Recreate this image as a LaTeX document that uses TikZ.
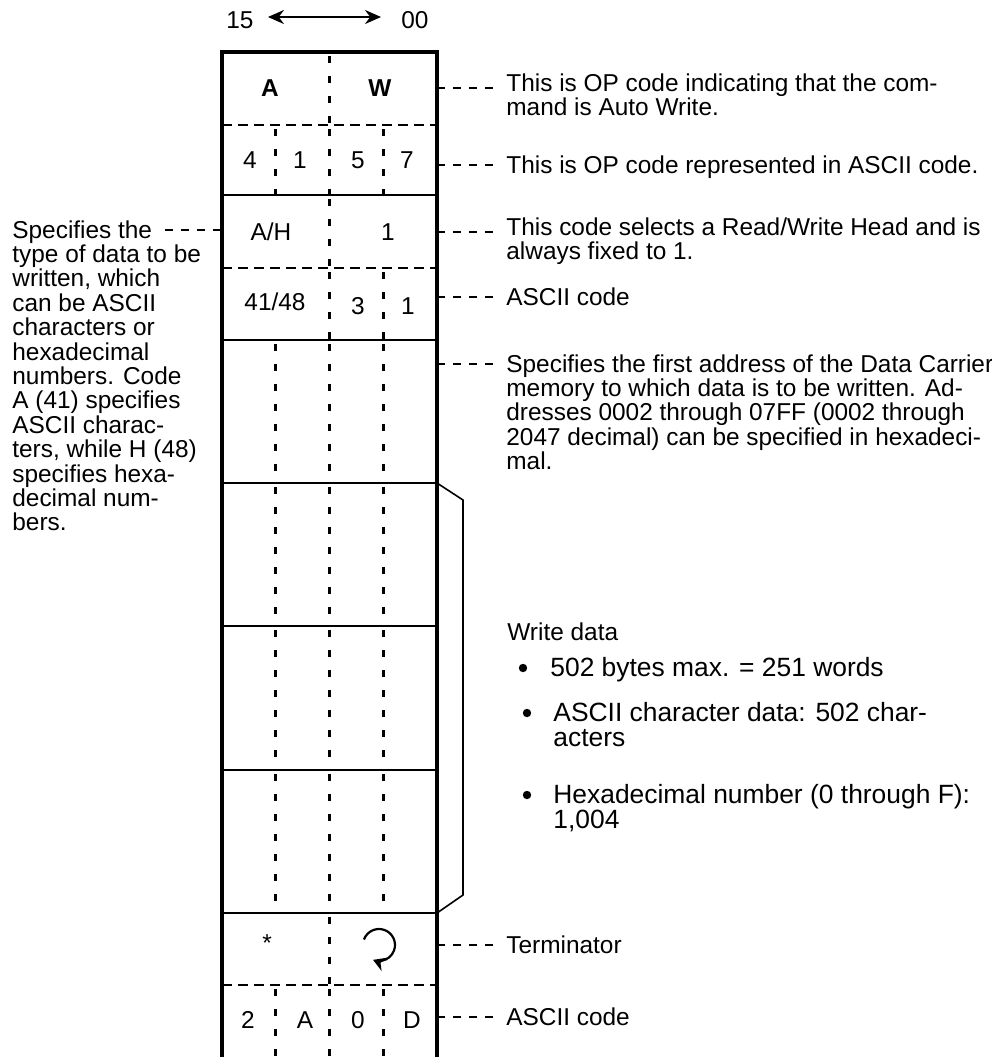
\documentclass[tikz,border=0pt]{standalone}
\usepackage{fontspec}
\setmainfont{Liberation Sans}
\usetikzlibrary{arrows.meta,positioning}
\newcommand{\txtsize}{\fontsize{12.2}{12.2}\selectfont}
\newcommand{\bulsize}{\fontsize{13.2}{12.6}\selectfont}
\newcommand{\colw}{53.75}

\begin{document}
\begin{tikzpicture}[x=0.5pt,y=-0.5pt,
	frame/.style={line width=2pt},
	rule/.style={line width=0.8pt},
	hdash/.style={line width=1.1pt,dash pattern=on 5pt off 3pt},
	vdash/.style={line width=1.6pt,dash pattern=on 3.5pt off 6.5pt},
	leader/.style={line width=0.8pt,dash pattern=on 4pt off 4pt},
	cell/.style={inner sep=0pt,font=\txtsize},
	note/.style={inner sep=0pt,align=left,anchor=north west,font=\txtsize},
	bul/.style={note,font=\bulsize},
	dot/.style={circle,fill,inner sep=0pt,minimum size=4.2pt},
	]
	\useasboundingbox (0,0) rectangle (992,1057);
	
	% bit order
	\node[cell] (b15) at (240,20) {15};
	\node[cell] (b00) at (415,20) {00};
	\draw[line width=1pt,{Stealth[length=8pt,width=7pt]}-{Stealth[length=8pt,width=7pt]}] ([xshift=7pt,yshift=1.5pt]b15.east) -- ([xshift=-10pt,yshift=1.5pt]b00.west);
	
	% dashed columns, row by row
	\foreach \ya/\yb/\cs/\ce in {52/125/2/2,125/195/1/3,195/268/2/2,268/340/2/3,340/483/1/3,483/626/1/3,626/770/1/3,770/913/1/3,913/985/2/2,985/1057/1/3}{
		\foreach \c in {\cs,...,\ce}
			\draw[vdash] ({222+\colw*\c},\ya+4) -- ({222+\colw*\c},\yb);
	}
	% row rules
	\foreach \y in {195,340,483,626,770,913}
		\draw[rule] (222,\y) -- (437,\y);
	\foreach \y in {125,268,985}
		\draw[hdash] (222,\y) -- (437,\y);
	% outer frame
	\draw[frame] (222,1062) -- (222,52) -- (437,52) -- (437,1062);
	
	% words
	\node[cell,font=\txtsize\bfseries] (opa) at (270,88) {A};
	\node[cell,font=\txtsize\bfseries] (opw) at (380,88) {W};
	\node[cell] (h4) at (250,160) {4};
	\node[cell] (h1) at (300,160) {1};
	\node[cell] (h5) at (358,160) {5};
	\node[cell] (h7) at (407,160) {7};
	\node[cell] (ah) at (271,232) {A/H};
	\node[cell] (hd) at (388,232) {1};
	\node[cell] (cd) at (275,302) {41/48};
	\node[cell] (c3) at (358,306) {3};
	\node[cell] (c1) at (408,306) {1};
	\node[cell] (star) at (267,943) {*};
	\coordinate (ret) at (379,945);
	\draw[line width=1.1pt,-{Stealth[length=6pt,width=7pt]}] (ret) ++(-160:16) arc[start angle=-160,end angle=112,radius=16];
	\node[cell] (t2) at (248,1020) {2};
	\node[cell] (ta) at (305,1020) {A};
	\node[cell] (t0) at (358,1020) {0};
	\node[cell] (td) at (412,1020) {D};
	
	% bracket round the write data
	\coordinate (ka) at (437,483);
	\coordinate (kb) at (463,500);
	\coordinate (kc) at (463,895);
	\coordinate (kd) at (437,913);
	\draw[rule] (ka) -- (kb) -- (kc) -- (kd);
	
	% leaders
	\foreach \n/\y in {1/88,2/165,3/232,4/297,5/364,6/945,7/1017}{
		\coordinate (o\n) at (437,\y);
		\coordinate (e\n) at (493,\y);
		\draw[leader] (o\n) -- (e\n);
	}
	\node[note] (opcode) at ([xshift=6.5pt,yshift=7.5pt]e1) {This is OP code indicating that the com-\\mand is Auto Write.};
	\node[note] (opascii) at ([xshift=6.5pt,yshift=5pt]e2) {This is OP code represented in ASCII code.};
	\node[note] (head) at ([xshift=6.5pt,yshift=7.5pt]e3) {This code selects a Read/Write Head and is\\always fixed to 1.};
	\node[note] (headascii) at ([xshift=6.5pt,yshift=5pt]e4) {ASCII code};
	\node[note] (addr) at ([xshift=6.5pt,yshift=5pt]e5) {Specifies the first address of the Data Carrier\\memory to which data is to be written. Ad-\\dresses 0002 through 07FF (0002 through\\2047 decimal) can be specified in hexadeci-\\mal.};
	\node[note] (term) at ([xshift=6.5pt,yshift=5pt]e6) {Terminator};
	\node[note] (termascii) at ([xshift=6.5pt,yshift=5pt]e7) {ASCII code};
	
	% left note
	\coordinate (sl) at (165,230);
	\coordinate (sr) at (222,230);
	\draw[leader] (sl) -- (sr);
	\node[note] (kind) at (12,220) {Specifies the\\type of data to be\\written, which\\can be ASCII\\characters or\\hexadecimal\\numbers. Code\\A (41) specifies\\ASCII charac-\\ters, while H (48)\\specifies hexa-\\decimal num-\\bers.};
	
	% write data
	\node[note] (wd) at (507,622) {Write data};
	\node[dot] (d1) at (523,668) {};
	\node[bul] (w1) at (550,657) {502 bytes max. = 251 words};
	\node[dot] (d2) at (527,713) {};
	\node[bul] (w2) at (553,702) {ASCII character data: 502 char-\\acters};
	\node[dot] (d3) at (527,795) {};
	\node[bul] (w3) at (553,784) {Hexadecimal number (0 through F):\\1,004};
\end{tikzpicture}
\end{document}
